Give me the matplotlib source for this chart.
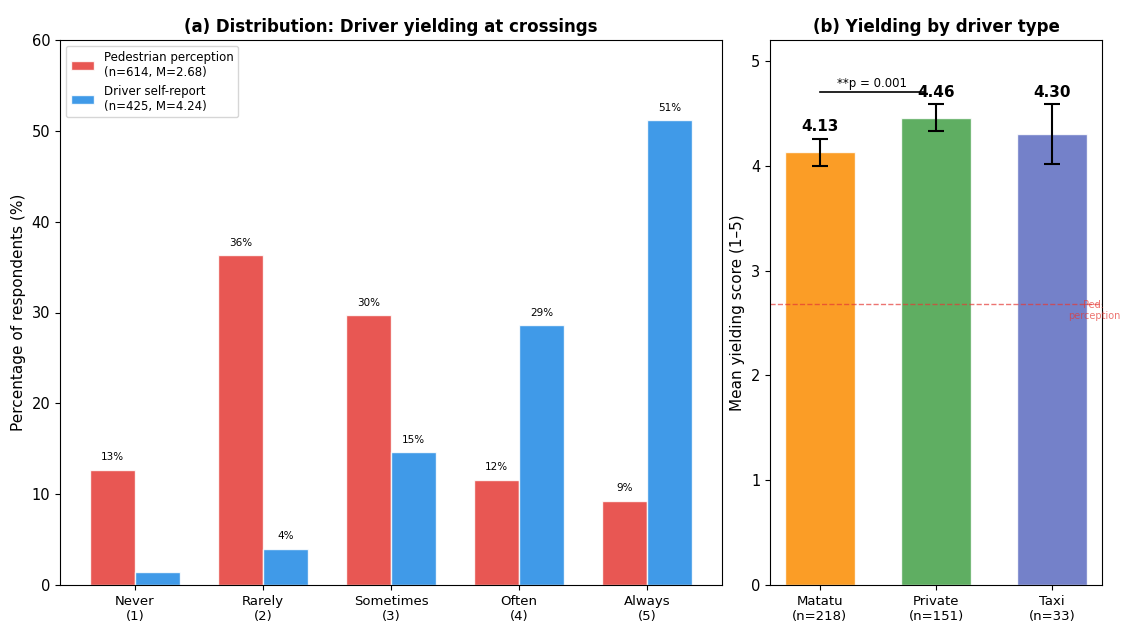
import matplotlib.pyplot as plt
import numpy as np

# data
categories = ["Never\n(1)", "Rarely\n(2)", "Sometimes\n(3)", "Often\n(4)", "Always\n(5)"]
ped_pct = [12.7, 36.3, 29.7, 11.6, 9.3]
drv_pct = [1.4, 4.0, 14.6, 28.6, 51.2]
ped_label = "Pedestrian perception\n(n=614, M=2.68)"
drv_label = "Driver self-report\n(n=425, M=4.24)"

driver_types = ["Matatu\n(n=218)", "Private\n(n=151)", "Taxi\n(n=33)"]
type_means = [4.13, 4.46, 4.30]
type_err_lo = [0.13, 0.13, 0.28]
type_err_hi = [0.13, 0.13, 0.29]
ped_mean = 2.68
sig_text = "**p = 0.001"

c_ped = "#E53935"
c_drv = "#1E88E5"
type_colors = ["#FB8C00", "#43A047", "#5C6BC0"]

fig = plt.figure(figsize=(11.23, 6.3), dpi=100)
ax1 = fig.add_axes([60 / 1123, 45 / 630, 662 / 1123, 545 / 630])
ax2 = fig.add_axes([770 / 1123, 45 / 630, 332 / 1123, 545 / 630])

# (a) distribution
x = np.arange(len(categories))
w = 0.35
b1 = ax1.bar(x - w / 2, ped_pct, w, color=c_ped, alpha=0.85, edgecolor="white", label=ped_label)
b2 = ax1.bar(x + w / 2, drv_pct, w, color=c_drv, alpha=0.85, edgecolor="white", label=drv_label)
for bars in (b1, b2):
    for b in bars:
        h = b.get_height()
        if h > 2:
            ax1.text(b.get_x() + b.get_width() / 2, h + 0.8, f"{h:.0f}%",
                     ha="center", va="bottom", fontsize=7.5)
ax1.set_xticks(x)
ax1.set_xticklabels(categories, fontsize=9.5)
ax1.set_ylim(0, 60)
ax1.tick_params(axis="y", labelsize=10.5)
ax1.set_ylabel("Percentage of respondents (%)", fontsize=11)
ax1.set_title("(a) Distribution: Driver yielding at crossings", fontsize=12, fontweight="bold")
ax1.legend(loc="upper left", fontsize=8.5)

# (b) by driver type
x2 = np.arange(len(driver_types))
ax2.bar(x2, type_means, 0.6, color=type_colors, alpha=0.85, edgecolor="white")
ax2.errorbar(x2, type_means, yerr=[type_err_lo, type_err_hi], fmt="none",
             ecolor="black", capsize=6, elinewidth=1.5, capthick=1.5)
for i, m in enumerate(type_means):
    ax2.text(i, m + type_err_hi[i] + 0.04, f"{m:.2f}", ha="center", va="bottom",
             fontsize=11, fontweight="bold")
ax2.axhline(ped_mean, color=c_ped, ls="--", lw=1, alpha=0.7)
ax2.text(2.36, ped_mean - 0.06, "Ped.\nperception", color=c_ped, alpha=0.7,
         fontsize=7, ha="center", va="center", clip_on=False)
ax2.plot([0, 0.9], [4.70, 4.70], color="black", lw=1.2)
ax2.text(0.45, 4.72, sig_text, ha="center", va="bottom", fontsize=8.5)
ax2.set_xticks(x2)
ax2.set_xticklabels(driver_types, fontsize=9.5)
ax2.set_ylim(0, 5.2)
ax2.tick_params(axis="y", labelsize=10.5)
ax2.set_ylabel("Mean yielding score (1\u20135)", fontsize=11)
ax2.set_title("(b) Yielding by driver type", fontsize=12, fontweight="bold")

fig.savefig("out.png", dpi=100)
